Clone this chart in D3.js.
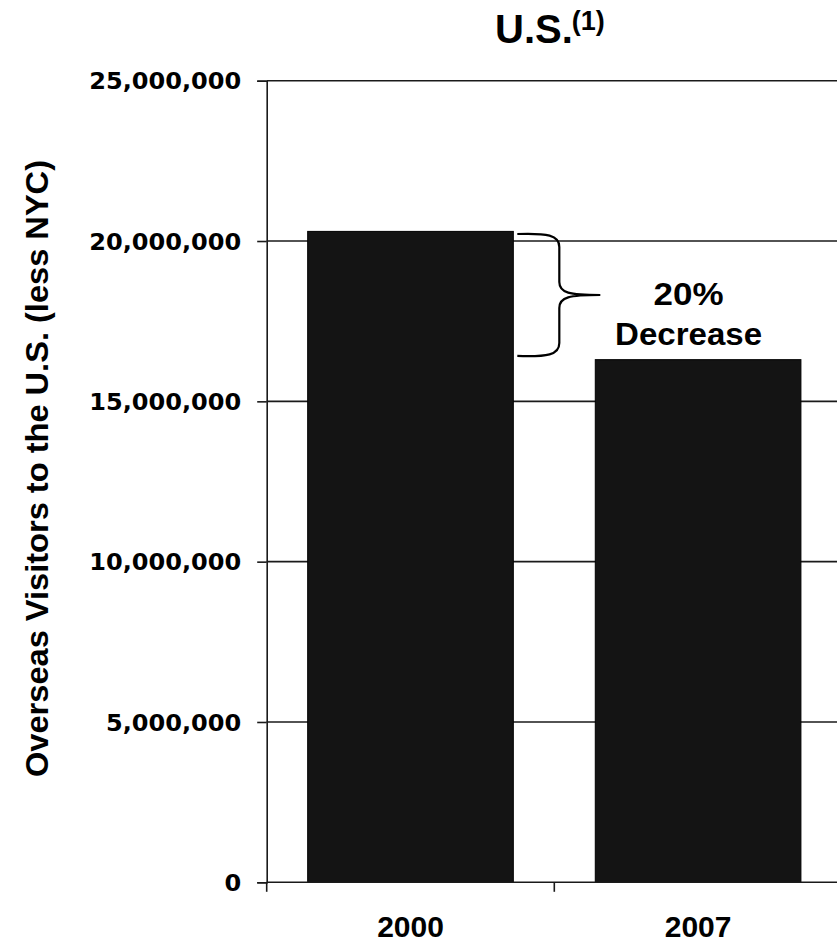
<!DOCTYPE html>
<html>
<head>
<meta charset="utf-8">
<script src="https://cdn.jsdelivr.net/npm/d3@7"></script>
<style>
  html, body { margin: 0; padding: 0; background: #ffffff; }
  svg { display: block; }
</style>
</head>
<body>
<svg id="chart" width="837" height="945"></svg>
<script>
// ---- data ----
const categories = ["2000", "2007"];
const visitors = [20300000, 16300000];
const yTicks = [0, 5000000, 10000000, 15000000, 20000000, 25000000];
const titleText = "U.S.";
const titleSup = "(1)";
const yLabel = "Overseas Visitors to the U.S. (less NYC)";
const annotationLines = ["20%", "Decrease"];

// ---- layout ----
const svg = d3.select("#chart");
const plotLeft = 266.7, plotTop = 80.7, plotBottom = 882.3, stepW = 287.6;
const plotRight = plotLeft + stepW * categories.length;

const y = d3.scaleLinear().domain([0, 25000000]).range([plotBottom, plotTop]);
const x = d3.scaleBand().domain(categories).range([plotLeft, plotRight])
  .paddingInner(0.285).paddingOuter(0.1425);

const lineColor = "#1a1a1a";

// gridlines
svg.append("g").selectAll("line").data(yTicks.filter(d => d > 0)).join("line")
  .attr("x1", plotLeft).attr("x2", 837)
  .attr("y1", d => y(d)).attr("y2", d => y(d))
  .attr("stroke", lineColor).attr("stroke-width", 1.6);

// bars
svg.append("g").selectAll("rect").data(categories).join("rect")
  .attr("x", d => x(d))
  .attr("width", x.bandwidth())
  .attr("y", (d, i) => y(visitors[i]))
  .attr("height", (d, i) => y(0) - y(visitors[i]))
  .attr("fill", "#141414")
  .attr("stroke", "#000").attr("stroke-width", 1);

// baseline (x axis line)
svg.append("line")
  .attr("x1", plotLeft).attr("x2", 837)
  .attr("y1", y(0)).attr("y2", y(0))
  .attr("stroke", lineColor).attr("stroke-width", 1.6);

// x boundary ticks
const bounds = d3.range(categories.length + 1).map(i => x.range()[0] + i * x.step());
svg.append("g").selectAll("line").data(bounds).join("line")
  .attr("x1", d => d).attr("x2", d => d)
  .attr("y1", y(0)).attr("y2", y(0) + 9.5)
  .attr("stroke", lineColor).attr("stroke-width", 1.6);

// y axis
const yAxis = d3.axisLeft(y).tickValues(yTicks).tickSize(9.5).tickPadding(16)
  .tickFormat(d3.format(","));
const gy = svg.append("g").attr("transform", `translate(${plotLeft},0)`).call(yAxis);
gy.select(".domain").attr("stroke", lineColor).attr("stroke-width", 1.6);
gy.selectAll(".tick line").attr("stroke", lineColor).attr("stroke-width", 1.6);
gy.selectAll(".tick text")
  .attr("font-family", "DejaVu Sans").attr("font-weight", "bold")
  .attr("font-size", 23).attr("fill", "#000").attr("dy", "0.36em");
// widen labels to match the reference face
const refW = gy.selectAll(".tick text").filter(d => d === 25000000).node().getComputedTextLength();
const k = 152 / refW;
gy.selectAll(".tick text").each(function() {
  const w = this.getComputedTextLength();
  d3.select(this).attr("textLength", w * k).attr("lengthAdjust", "spacingAndGlyphs");
});

// category labels
svg.append("g").selectAll("text").data(categories).join("text")
  .attr("x", d => x(d) + x.bandwidth() / 2)
  .attr("y", y(0) + 55)
  .attr("text-anchor", "middle")
  .attr("font-family", "Liberation Sans, Arial, sans-serif")
  .attr("font-weight", "bold").attr("font-size", 30)
  .attr("fill", "#000")
  .text(d => d);

// y axis title
svg.append("text")
  .attr("transform", `translate(48,${(plotTop + plotBottom) / 2 - 13}) rotate(-90)`)
  .attr("text-anchor", "middle")
  .attr("font-family", "Liberation Sans, Arial, sans-serif")
  .attr("font-weight", "bold").attr("font-size", 32)
  .attr("textLength", 617).attr("lengthAdjust", "spacingAndGlyphs")
  .attr("fill", "#000")
  .text(yLabel);

// chart title with superscript
const title = svg.append("text")
  .attr("x", 495).attr("y", 42.7)
  .attr("font-family", "Liberation Sans, Arial, sans-serif")
  .attr("font-weight", "bold")
  .attr("fill", "#000");
title.append("tspan").attr("font-size", 40).text(titleText);
title.append("tspan").attr("font-size", 27).attr("dy", -13).attr("dx", -1).text(titleSup);

// bracket annotation
const bx0 = x(categories[0]) + x.bandwidth() + 4;
const byTop = y(visitors[0]) + 2.6;
const byBot = y(visitors[1]) - 3.7;
const byMid = (byTop + byBot) / 2;
const bxV = bx0 + 42, bxTip = bx0 + 83;
const p = d3.path();
p.moveTo(bx0, byTop);
p.bezierCurveTo(bx0 + 30, byTop - 1, bxV, byTop + 1, bxV, byTop + 13);
p.lineTo(bxV, byMid - 13);
p.bezierCurveTo(bxV, byMid - 2, bxV + 10, byMid, bxTip, byMid);
p.moveTo(bxTip, byMid);
p.bezierCurveTo(bxV + 10, byMid, bxV, byMid + 2, bxV, byMid + 13);
p.lineTo(bxV, byBot - 13);
p.bezierCurveTo(bxV, byBot - 1, bx0 + 30, byBot + 1, bx0, byBot);
svg.append("path").attr("d", p.toString())
  .attr("fill", "none").attr("stroke", "#000").attr("stroke-width", 2.2);

const annX = x(categories[1]) + x.bandwidth() / 2 - 9.5;
const annWidths = [70, 147];
svg.append("g").selectAll("text").data(annotationLines).join("text")
  .attr("x", annX)
  .attr("y", (d, i) => byMid + 10 + i * 40)
  .attr("text-anchor", "middle")
  .attr("font-family", "Liberation Sans, Arial, sans-serif")
  .attr("font-weight", "bold").attr("font-size", 32)
  .attr("textLength", (d, i) => annWidths[i]).attr("lengthAdjust", "spacingAndGlyphs")
  .attr("fill", "#000")
  .text(d => d);
</script>
</body>
</html>
